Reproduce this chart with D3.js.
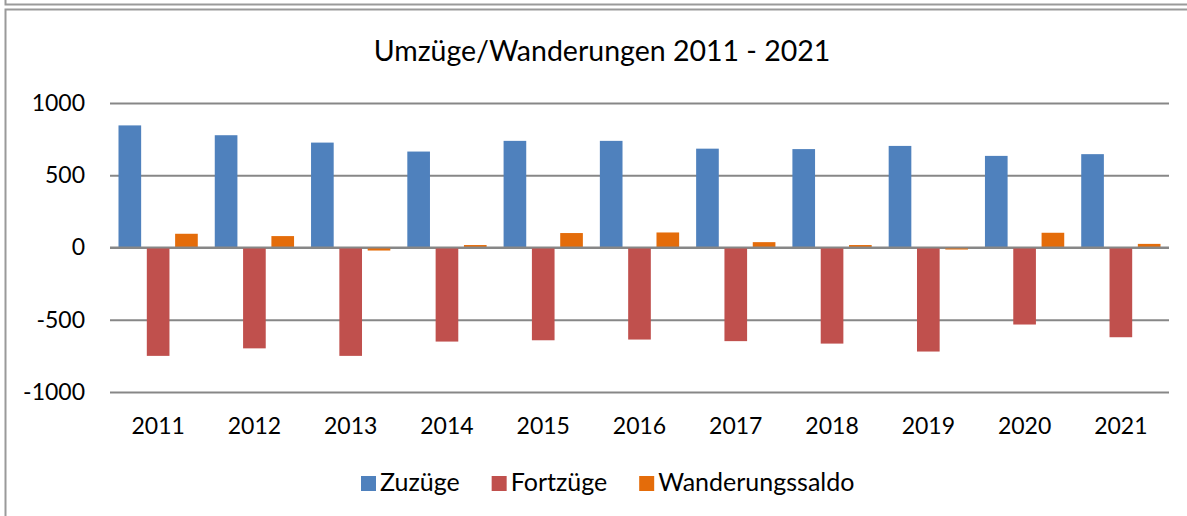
<!DOCTYPE html>
<html>
<head>
<meta charset="utf-8">
<script src="https://cdn.jsdelivr.net/npm/d3@7"></script>
<style>
  body { margin: 0; background: #fff; }
  svg { display: block; font-family: Lato, "Open Sans", sans-serif; }
</style>
</head>
<body>
<div id="chart"></div>
<script>
// values
const years = ["2011", "2012", "2013", "2014", "2015", "2016", "2017", "2018", "2019", "2020", "2021"];
const zuzuege = [845, 777, 726, 664, 738, 738, 684, 681, 703, 634, 646];
const fortzuege = [-750, -698, -750, -651, -642, -637, -648, -665, -720, -533, -621];
const saldo = [95, 79, -21, 17, 100, 104, 37, 17, -14, 102, 25];
const seriesNames = ["Zuzüge", "Fortzüge", "Wanderungssaldo"];
const seriesColors = ["#4F81BD", "#C0504D", "#E46C0A"];
const yTicks = [-1000, -500, 0, 500, 1000];

const W = 1187, H = 516;
const plotL = 110, plotR = 1169, plotT = 103, plotB = 392;

const svg = d3.select("#chart").append("svg")
    .attr("width", W).attr("height", H);

// frame lines
svg.append("path")
    .attr("d", `M5.5,0V4.5H${W}`)
    .attr("fill", "none").attr("stroke", "#9a9a9a").attr("stroke-width", 2);
svg.append("path")
    .attr("d", `M${W},9.5H5.5V${H}`)
    .attr("fill", "none").attr("stroke", "#9a9a9a").attr("stroke-width", 2);

const data = years.map((yr, i) => ({ year: yr, values: [zuzuege[i], fortzuege[i], saldo[i]] }));

const x0 = d3.scaleBand().domain(years).range([plotL, plotR]).padding(0);
const x1 = d3.scaleBand().domain(d3.range(3)).range([0, x0.bandwidth()])
    .paddingInner(0.2).paddingOuter(0.3);
const y = d3.scaleLinear().domain([-1000, 1000]).range([plotB, plotT]);

// gridlines + y labels
const yAxis = svg.append("g")
    .attr("transform", `translate(${plotL},0)`)
    .call(d3.axisLeft(y).tickValues(yTicks).tickSize(-(plotR - plotL)).tickPadding(25)
      .tickFormat(d => String(d)));
yAxis.select(".domain").remove();
yAxis.selectAll("line").attr("stroke", "#878787").attr("stroke-width", 2);
yAxis.selectAll("text")
    .attr("font-size", 23).attr("fill", "#000").attr("font-family", "Lato");

// bars
const groups = svg.append("g").selectAll("g")
    .data(data).join("g")
    .attr("transform", d => `translate(${x0(d.year)},0)`);
groups.selectAll("rect")
    .data(d => d.values.map((v, i) => ({ v, i })))
    .join("rect")
    .attr("x", d => x1(d.i))
    .attr("width", x1.bandwidth())
    .attr("y", d => y(Math.max(0, d.v)))
    .attr("height", d => Math.abs(y(d.v) - y(0)))
    .attr("fill", d => seriesColors[d.i]);

// zero line on top of bars
svg.append("line")
    .attr("x1", plotL).attr("x2", plotR)
    .attr("y1", y(0)).attr("y2", y(0))
    .attr("stroke", "#878787").attr("stroke-width", 2);

// year labels
const xAxis = svg.append("g")
    .attr("transform", `translate(0,${plotB})`)
    .call(d3.axisBottom(x0).tickSize(0).tickPadding(26));
xAxis.select(".domain").remove();
xAxis.selectAll("text")
    .attr("font-size", 23).attr("fill", "#000").attr("font-family", "Lato");

// title
svg.append("text")
    .attr("x", 602).attr("y", 61)
    .attr("text-anchor", "middle")
    .attr("font-size", 28.5)
    .text("Umzüge/Wanderungen 2011 - 2021");

// legend
const legend = svg.append("g");
let lx = 361;
seriesNames.forEach((name, i) => {
  legend.append("rect")
      .attr("x", lx).attr("y", 476)
      .attr("width", 15).attr("height", 15)
      .attr("fill", seriesColors[i]);
  const t = legend.append("text")
      .attr("x", lx + 19).attr("y", 491)
      .attr("font-size", 25)
      .text(name);
  lx += 19 + t.node().getComputedTextLength() + 32;
});
</script>
</body>
</html>
